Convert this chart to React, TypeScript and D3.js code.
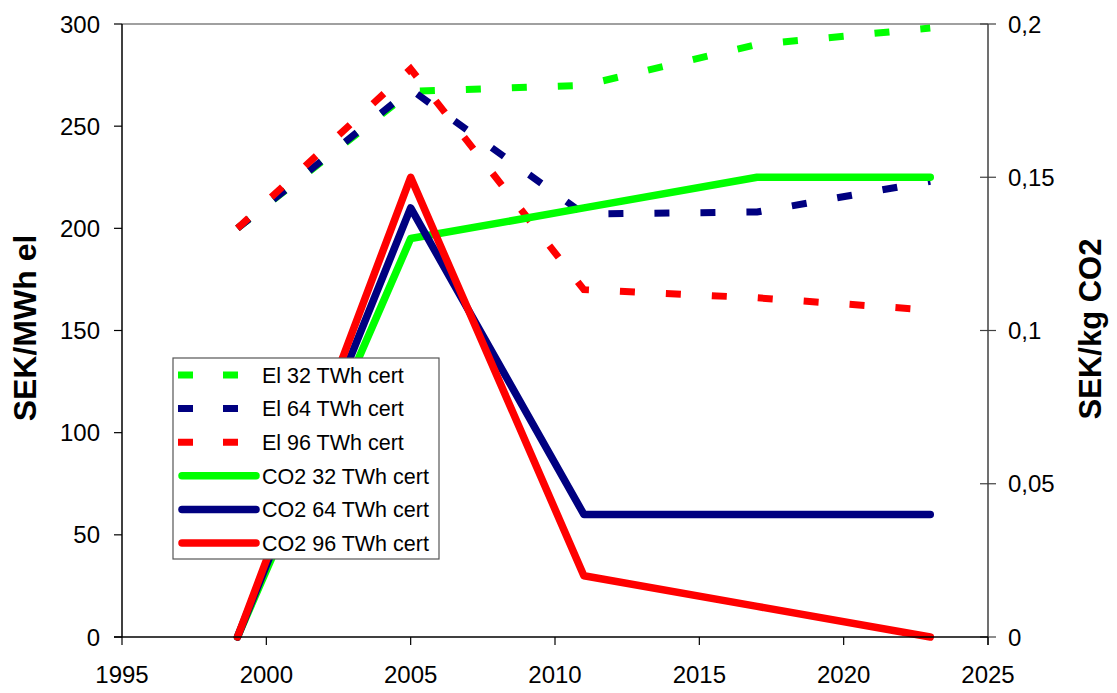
import React from "react";
import * as d3 from "d3";

const years = [1999, 2005, 2011, 2017, 2023];
const el32 = [200, 267, 270, 290, 298];
const el64 = [200, 268, 207, 208, 223];
const el96 = [200, 278, 170, 166, 160];
const co2_32 = [0, 0.13, 0.14, 0.15, 0.15];
const co2_64 = [0, 0.14, 0.04, 0.04, 0.04];
const co2_96 = [0, 0.15, 0.02, 0.01, 0];

const xTicks = [1995, 2000, 2005, 2010, 2015, 2020, 2025];
const yLeftTicks = [0, 50, 100, 150, 200, 250, 300];
const yRightTicks = [0, 0.05, 0.1, 0.15, 0.2];

const legendLabels = [
  "El 32 TWh cert",
  "El 64 TWh cert",
  "El 96 TWh cert",
  "CO2 32 TWh cert",
  "CO2 64 TWh cert",
  "CO2 96 TWh cert",
];

const GREEN = "#00ff00";
const NAVY = "#000080";
const RED = "#ff0000";

export default function App() {
  const W = 1117, H = 693;
  const left = 122, right = 988, top = 24, bottom = 637;
  const x = d3.scaleLinear().domain([1995, 2025]).range([left, right]);
  const yL = d3.scaleLinear().domain([0, 300]).range([bottom, top]);
  const yR = d3.scaleLinear().domain([0, 0.2]).range([bottom, top]);

  const lineL = d3.line<number>().x((_, i) => x(years[i])).y((d) => yL(d));
  const lineR = d3.line<number>().x((_, i) => x(years[i])).y((d) => yR(d));

  const font = "'Liberation Sans', Arial, sans-serif";
  const fmtR = (v: number) => (v === 0 ? "0" : String(v).replace(".", ","));

  const elSeries = [
    { data: el32, color: GREEN },
    { data: el64, color: NAVY },
    { data: el96, color: RED },
  ];
  const co2Series = [
    { data: co2_32, color: GREEN },
    { data: co2_64, color: NAVY },
    { data: co2_96, color: RED },
  ];

  const legX = 173, legY = 358, legW = 266, legH = 201;
  const rowY = (i: number) => 375 + i * 33.6;
  const legendColors = [GREEN, NAVY, RED, GREEN, NAVY, RED];

  return (
    <svg
      width={W}
      height={H}
      style={{ position: "absolute", left: 0, top: 0, background: "#fff" }}
      fontFamily={font}
    >
      <rect x={0} y={0} width={W} height={H} fill="#fff" />
      {/* top border */}
      <line x1={left} x2={right} y1={top} y2={top} stroke="#808080" strokeWidth={1.5} />

      {/* El dashed series */}
      {elSeries.map((s, i) => (
        <path
          key={"el" + i}
          d={lineL(s.data) || ""}
          fill="none"
          stroke={s.color}
          strokeWidth={7}
          strokeDasharray="15 31"
          strokeLinejoin="miter"
        />
      ))}

      {/* CO2 solid series */}
      {co2Series.map((s, i) => (
        <path
          key={"co2" + i}
          d={lineR(s.data) || ""}
          fill="none"
          stroke={s.color}
          strokeWidth={7.5}
          strokeLinecap="round"
          strokeLinejoin="round"
        />
      ))}

      {/* left axis */}
      <line x1={left} x2={left} y1={top} y2={bottom} stroke="#000" strokeWidth={1.5} />
      {yLeftTicks.map((t) => (
        <g key={"yl" + t}>
          <line x1={left - 8} x2={left} y1={yL(t)} y2={yL(t)} stroke="#000" strokeWidth={1.2} />
          <text x={100} y={yL(t)} dy="0.36em" textAnchor="end" fontSize={24} fill="#000">
            {t}
          </text>
        </g>
      ))}

      {/* right axis */}
      <line x1={right} x2={right} y1={top} y2={bottom + 8} stroke="#404040" strokeWidth={1.5} />
      {yRightTicks.map((t) => (
        <g key={"yr" + t}>
          <line x1={right - 8} x2={right + 8} y1={yR(t)} y2={yR(t)} stroke="#404040" strokeWidth={1.2} />
          <text x={1008} y={yR(t)} dy="0.36em" textAnchor="start" fontSize={24} fill="#000">
            {fmtR(t)}
          </text>
        </g>
      ))}

      {/* x axis */}
      <line x1={left - 8} x2={right} y1={bottom} y2={bottom} stroke="#000" strokeWidth={1.5} />
      {xTicks.map((t) => (
        <g key={"x" + t}>
          <line x1={x(t)} x2={x(t)} y1={bottom} y2={bottom + 8} stroke="#000" strokeWidth={1.2} />
          <text x={x(t)} y={683} textAnchor="middle" fontSize={24} fill="#000">
            {t}
          </text>
        </g>
      ))}

      {/* axis titles */}
      <text
        transform={`translate(36,328) rotate(-90)`}
        textAnchor="middle"
        fontSize={32}
        fontWeight="bold"
        fill="#000"
      >
        SEK/MWh el
      </text>
      <text
        transform={`translate(1101,329) rotate(-90)`}
        textAnchor="middle"
        fontSize={31}
        fontWeight="bold"
        fill="#000"
      >
        SEK/kg CO2
      </text>

      {/* legend */}
      <rect x={legX} y={legY} width={legW} height={legH} fill="#fff" stroke="#555" strokeWidth={1.2} />
      {legendLabels.map((lab, i) => (
        <g key={"lg" + i}>
          {i < 3 ? (
            <line
              x1={178}
              x2={259}
              y1={rowY(i)}
              y2={rowY(i)}
              stroke={legendColors[i]}
              strokeWidth={7}
              strokeDasharray="15 30"
            />
          ) : (
            <line
              x1={182}
              x2={256}
              y1={rowY(i)}
              y2={rowY(i)}
              stroke={legendColors[i]}
              strokeWidth={7.5}
              strokeLinecap="round"
            />
          )}
          <text x={262} y={rowY(i)} dy="0.36em" fontSize={21.5} fill="#000">
            {lab}
          </text>
        </g>
      ))}
    </svg>
  );
}
